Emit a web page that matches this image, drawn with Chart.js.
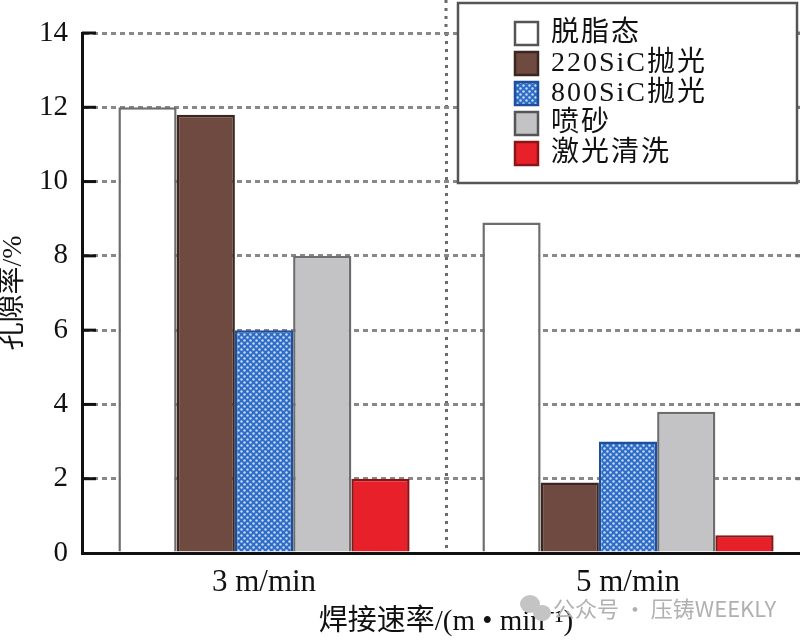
<!DOCTYPE html>
<html><head><meta charset="utf-8">
<script src="https://cdn.jsdelivr.net/npm/chart.js@4.4.1/dist/chart.umd.min.js"></script>
<style>
html,body{margin:0;padding:0;background:#fff;overflow:hidden;width:800px;height:642px}
#wrap{position:absolute;left:0;top:0;width:812px;height:642px}
</style>
</head><body><div id="wrap"><canvas id="c" width="812" height="642"></canvas></div>
<script>
const categories = ['3 m/min', '5 m/min'];
const seriesNames = ['脱脂态', '220SiC抛光', '800SiC抛光', '喷砂', '激光清洗'];
const degreased = [12.0, 8.9];
const sic220 = [11.8, 1.9];
const sic800 = [6.0, 3.0];
const sandblast = [8.0, 3.8];
const laser = [2.0, 0.48];
const yTicks = [0, 2, 4, 6, 8, 10, 12, 14];
const yTitle = '孔隙率/%';
const xTitle = '焊接速率/(m • min⁻¹)';
const watermark = '公众号 · 压铸WEEKLY';

const SERIF = '"Liberation Serif", "Noto Sans CJK SC", serif';

function makeDotPattern() {
  const t = document.createElement('canvas');
  t.width = 6; t.height = 6;
  const g = t.getContext('2d');
  g.fillStyle = '#2f6cc6';
  g.fillRect(0, 0, 6, 6);
  g.fillStyle = '#c4dcf5';
  g.beginPath(); g.arc(1.5, 1.5, 1.2, 0, Math.PI * 2); g.fill();
  g.beginPath(); g.arc(4.5, 4.5, 1.2, 0, Math.PI * 2); g.fill();
  const ctx = document.getElementById('c').getContext('2d');
  return ctx.createPattern(t, 'repeat');
}
const bluePattern = makeDotPattern();

const fills = ['#ffffff', '#6f4a41', bluePattern, '#c3c2c4', '#e8202a'];
const borders = ['#6d6d6d', '#3b2620', '#1d4f9c', '#6d6d6d', '#8c1414'];
const seriesValues = [degreased, sic220, sic800, sandblast, laser];

const datasets = seriesNames.map((n, i) => ({
  label: n,
  data: seriesValues[i],
  backgroundColor: fills[i],
  borderColor: borders[i],
  borderWidth: 2.5,
  categoryPercentage: 0.8,
  barPercentage: 1.0
}));

const decorPlugin = {
  id: 'decor',
  beforeDatasetsDraw(chart) {
    const ctx = chart.ctx, ca = chart.chartArea, y = chart.scales.y, x = chart.scales.x;
    ctx.save();
    const xm = (x.getPixelForValue(0) + x.getPixelForValue(1)) / 2;
    ctx.strokeStyle = '#6a6a6a';
    ctx.lineWidth = 3;
    ctx.setLineDash([3, 5]);
    ctx.beginPath(); ctx.moveTo(xm, 0); ctx.lineTo(xm, ca.top); ctx.stroke();
    ctx.setLineDash([]);
    yTicks.forEach(v => {
      const py = y.getPixelForValue(v);
      if (v === 0) return;
      ctx.strokeStyle = '#111';
      ctx.lineWidth = 3;
      ctx.beginPath(); ctx.moveTo(ca.left, py); ctx.lineTo(ca.left + 14, py); ctx.stroke();
      ctx.strokeStyle = '#777';
      ctx.beginPath(); ctx.moveTo(ca.right - 14, py); ctx.lineTo(ca.right, py); ctx.stroke();
    });
    ctx.restore();
  },
  afterDraw(chart) {
    const ctx = chart.ctx;
    ctx.save();
    ctx.fillStyle = '#fff';
    ctx.fillRect(458, 3, 339, 180);
    ctx.strokeStyle = '#555';
    ctx.lineWidth = 2.5;
    ctx.strokeRect(458, 3, 339, 180);
    chart.data.datasets.forEach((ds, i) => {
      const cy = 33 + i * 30;
      ctx.fillStyle = ds.backgroundColor;
      ctx.fillRect(515, cy - 11, 23, 23);
      ctx.strokeStyle = i === 0 || i === 3 ? '#555' : ds.borderColor;
      ctx.lineWidth = 2.5;
      ctx.strokeRect(515, cy - 11, 23, 23);
      ctx.fillStyle = '#111';
      ctx.font = '28px ' + SERIF;
      ctx.textBaseline = 'middle';
      ctx.textAlign = 'left';
      try { ctx.letterSpacing = '2px'; } catch (e) {}
      ctx.fillText(ds.label, 551, cy + 1);
      try { ctx.letterSpacing = '0px'; } catch (e) {}
    });
    ctx.fillStyle = '#c4c4c4';
    ctx.beginPath(); ctx.ellipse(530, 604, 10, 9, 0, 0, Math.PI * 2); ctx.fill();
    ctx.beginPath(); ctx.ellipse(542, 613, 9, 8, 0, 0, Math.PI * 2); ctx.fill();
    ctx.fillStyle = '#b0b0b0';
    ctx.font = '22px "Noto Sans CJK SC", sans-serif';
    ctx.textBaseline = 'middle';
    ctx.fillText(watermark, 553, 609);
    ctx.restore();
  }
};

new Chart(document.getElementById('c'), {
  type: 'bar',
  data: { labels: categories, datasets },
  options: {
    responsive: false,
    animation: false,
    devicePixelRatio: 1,
    layout: { padding: { top: 33, right: 2, left: 0, bottom: 0 } },
    plugins: { legend: { display: false }, tooltip: { enabled: false } },
    scales: {
      x: {
        grid: { display: true, offset: true, color: '#6a6a6a', lineWidth: 3, drawTicks: false },
        border: { display: true, color: '#111', width: 3, dash: [3, 5] },
        ticks: { color: '#111', font: { family: SERIF, size: 31 }, padding: 11 },
        title: { display: true, text: xTitle, color: '#111', font: { family: SERIF, size: 29 }, padding: { top: 2, bottom: 2 } },
        afterFit: s => { s.height = 89; }
      },
      y: {
        min: 0, max: 14,
        afterBuildTicks: s => { s.ticks = yTicks.map(v => ({ value: v })); },
        grid: { color: '#888', lineWidth: 3, drawTicks: false },
        border: { display: true, color: '#111', width: 3, dash: [5, 4] },
        ticks: { color: '#111', font: { family: SERIF, size: 29 }, padding: 14 },
        title: { display: true, text: yTitle, color: '#111', font: { family: SERIF, size: 28, lineHeight: 1 }, padding: { top: 0, bottom: 0 } },
        afterFit: s => { s.width = 82; }
      }
    }
  },
  plugins: [decorPlugin]
});
</script>
</body></html>
